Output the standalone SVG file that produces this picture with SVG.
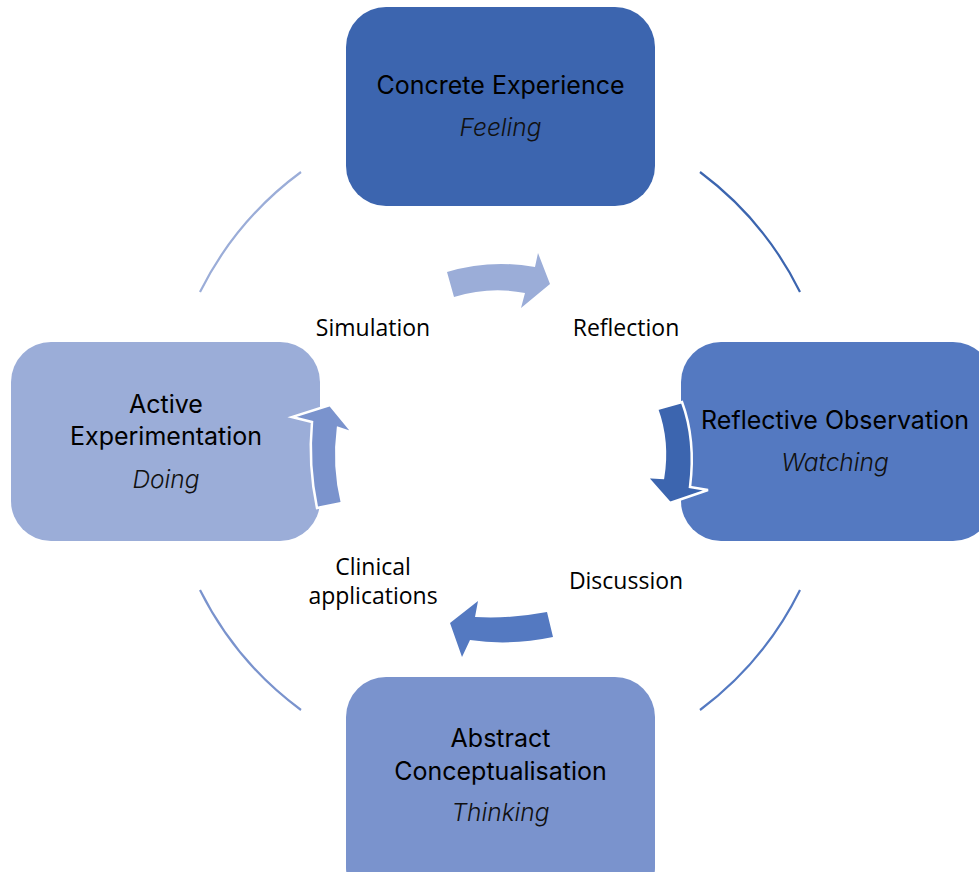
<svg xmlns="http://www.w3.org/2000/svg" width="979" height="872" viewBox="0 0 979 872">
  <style>
    .title { font-family: "Inter", "Noto Sans", sans-serif; font-size: 25px; fill: #000; text-anchor: middle; }
    .sub { font-family: "Inter", "Noto Sans", sans-serif; font-size: 24.5px; font-style: italic; font-weight: 300; fill: #111; text-anchor: middle; }
    .lbl { font-family: "Open Sans", "Liberation Sans", sans-serif; font-size: 23px; fill: #000; text-anchor: middle; }
    .arc { fill: none; stroke-width: 2.2; }
  </style>
  <rect width="979" height="872" fill="#ffffff"/>

  <!-- cycle ring segments (circle centre 500,441, r 335) -->
  <g id="ring">
    <path class="arc" stroke="#9BADD8" d="M200,292 A335,335 0 0 1 301,172"/>
    <path class="arc" stroke="#3C65AF" d="M700,172 A335,335 0 0 1 800,292"/>
    <path class="arc" stroke="#5479C1" d="M800,590 A335,335 0 0 1 700,710"/>
    <path class="arc" stroke="#7A93CD" d="M301,710 A335,335 0 0 1 200,590"/>
  </g>

  <!-- nodes -->
  <g id="concrete-experience">
    <rect x="346" y="7" width="309" height="199" rx="40" fill="#3C65AF"/>
    <text class="title" x="500.5" y="94">Concrete Experience</text>
    <text class="sub" x="500.5" y="136">Feeling</text>
  </g>
  <g id="reflective-observation">
    <rect x="681" y="342" width="312" height="199" rx="40" fill="#5479C1"/>
    <text class="title" x="835" y="429">Reflective Observation</text>
    <text class="sub" x="835" y="471">Watching</text>
  </g>
  <g id="abstract-conceptualisation">
    <rect x="346" y="677" width="309" height="230" rx="40" fill="#7A93CD"/>
    <text class="title" x="500.5" y="747">Abstract</text>
    <text class="title" x="500.5" y="780">Conceptualisation</text>
    <text class="sub" x="500.5" y="821">Thinking</text>
  </g>
  <g id="active-experimentation">
    <rect x="11" y="342" width="309" height="199" rx="40" fill="#9BADD8"/>
    <text class="title" x="166" y="413">Active</text>
    <text class="title" x="166" y="445">Experimentation</text>
    <text class="sub" x="166" y="488">Doing</text>
  </g>

  <!-- curved transition arrows -->
  <g id="connectors">
    <path fill="#9BADD8" d="M447,272 Q490,259 535,267 L538,253 L550,284 L521,308 L525,293 Q490,286 454,297 Z"/>
    <path fill="#3C65AF" stroke="#ffffff" stroke-width="2.5" stroke-linejoin="miter" d="M657,409 Q669,442 663,478 L647,477 L670,503 L708,490 L690,487 Q696,440 682,402 Z"/>
    <path fill="#5479C1" d="M547,612 Q510,619 475,617 L478,601 L450,623 L462,657 L470,640 Q510,646 553,637 Z"/>
    <path fill="#7A93CD" stroke="#ffffff" stroke-width="2.5" stroke-linejoin="miter" d="M317,508 Q308,465 312,422 L292,417 L330,405 L353,433 L338,428 Q333,466 342,503 Z"/>
  </g>

  <!-- transition labels -->
  <g id="labels">
    <text class="lbl" x="373" y="336">Simulation</text>
    <text class="lbl" x="626" y="336">Reflection</text>
    <text class="lbl" x="373" y="575">Clinical</text>
    <text class="lbl" x="373" y="604">applications</text>
    <text class="lbl" x="626" y="589">Discussion</text>
  </g>
</svg>
